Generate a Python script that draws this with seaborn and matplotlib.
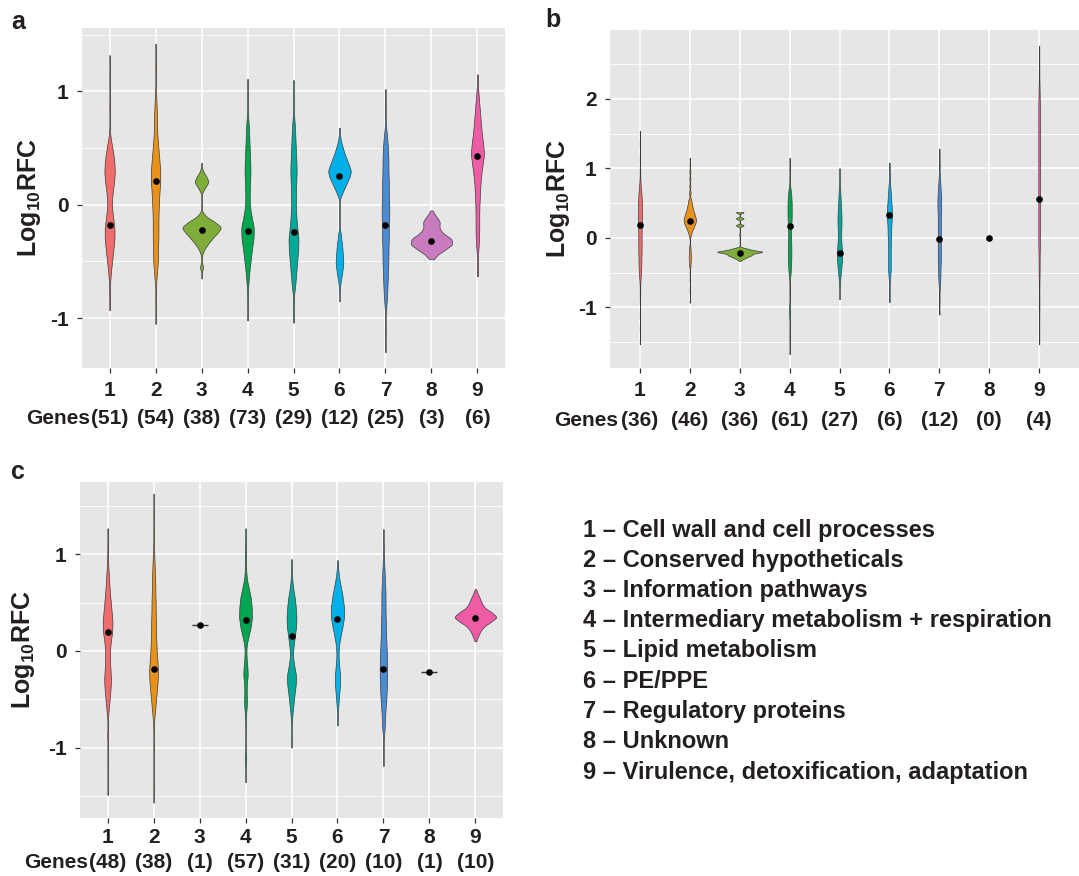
import numpy as np
import pandas as pd
import matplotlib
matplotlib.use("Agg")
import matplotlib.pyplot as plt
from matplotlib.ticker import MultipleLocator
import seaborn as sns

# ---------------- data ----------------
categories = ["1", "2", "3", "4", "5", "6", "7", "8", "9"]
category_names = [
    "Cell wall and cell processes",
    "Conserved hypotheticals",
    "Information pathways",
    "Intermediary metabolism + respiration",
    "Lipid metabolism",
    "PE/PPE",
    "Regulatory proteins",
    "Unknown",
    "Virulence, detoxification, adaptation",
]
colors = ["#F06B6B", "#E8921C", "#7EAD3A", "#00A650", "#00A99A",
          "#00B0E8", "#4B8BD1", "#C87BBE", "#EE5CA5"]

genes_a = [51, 54, 38, 73, 29, 12, 25, 3, 6]
genes_b = [36, 46, 36, 61, 27, 6, 12, 0, 4]
genes_c = [48, 38, 1, 57, 31, 20, 10, 1, 10]

median_a = [-0.18, 0.21, -0.22, -0.23, -0.24, 0.25, -0.18, -0.32, 0.43]
median_b = [0.19, 0.25, -0.21, 0.17, -0.21, 0.33, -0.01, 0.0, 0.56]
median_c = [0.20, -0.19, 0.27, 0.32, 0.16, 0.33, -0.19, -0.22, 0.34]

# density profiles: log10 RFC levels and weights
a1_v = [1.32, 1.1, 0.85, 0.6, 0.5, 0.4, 0.3, 0.2, 0.1, 0.0, -0.1, -0.2, -0.3, -0.4, -0.5, -0.6, -0.7, -0.8, -0.93]
a1_n = [1, 1, 1, 2, 7, 11, 13, 11, 7, 5, 8, 12, 12, 9, 6, 3, 1, 1, 1]
a2_v = [1.42, 1.2, 1.0, 0.9, 0.8, 0.7, 0.6, 0.5, 0.4, 0.3, 0.2, 0.1, 0.0, -0.1, -0.2, -0.3, -0.4, -0.5, -0.6, -0.7, -0.85, -1.05]
a2_n = [1, 1, 1, 2, 3, 3, 4, 6, 8, 10, 10, 8, 7, 6, 6, 6, 5, 5, 3, 1, 1, 1]
a3_v = [0.37, 0.3, 0.25, 0.2, 0.15, 0.1, 0.0, -0.1, -0.15, -0.2, -0.25, -0.3, -0.35, -0.4, -0.45, -0.55, -0.65]
a3_n = [1, 3, 13, 20, 9, 1, 1, 10, 35, 55, 42, 28, 16, 6, 1, 5, 1]
a4_v = [1.11, 0.95, 0.8, 0.7, 0.6, 0.5, 0.4, 0.3, 0.2, 0.1, 0.0, -0.1, -0.2, -0.3, -0.4, -0.5, -0.6, -0.7, -0.85, -1.02]
a4_n = [1, 1, 1, 3, 4, 5, 6, 7, 6, 5, 5, 9, 15, 14, 10, 7, 4, 2, 1, 1]
a5_v = [1.1, 0.95, 0.8, 0.7, 0.6, 0.5, 0.4, 0.3, 0.2, 0.1, 0.0, -0.1, -0.2, -0.3, -0.4, -0.5, -0.6, -0.7, -0.8, -0.92, -1.04]
a5_n = [1, 1, 1, 3, 4, 5, 6, 7, 6, 5, 5, 6, 8, 11, 10, 8, 6, 4, 1, 1, 1]
a6_v = [0.68, 0.6, 0.55, 0.5, 0.45, 0.4, 0.35, 0.3, 0.25, 0.2, 0.15, 0.1, 0.05, -0.05, -0.15, -0.25, -0.3, -0.35, -0.4, -0.45, -0.5, -0.55, -0.6, -0.65, -0.7, -0.75, -0.85]
a6_n = [1, 2, 4, 8, 12, 17, 22, 27, 24, 18, 12, 6, 1, 1, 1, 3, 4, 6, 7, 8, 9, 8, 6, 4, 2, 1, 1]
a7_v = [1.02, 0.85, 0.7, 0.6, 0.5, 0.4, 0.3, 0.2, 0.1, 0.0, -0.1, -0.2, -0.3, -0.4, -0.5, -0.6, -0.7, -0.8, -0.9, -1.1, -1.3]
a7_n = [1, 1, 1, 4, 6, 7, 7, 8, 8, 9, 9, 8, 8, 7, 7, 6, 5, 4, 2, 1, 1]
a8_v = [-0.05, -0.1, -0.15, -0.2, -0.25, -0.3, -0.35, -0.4, -0.45, -0.48]
a8_n = [2, 12, 24, 20, 30, 55, 58, 35, 12, 2]
a9_v = [1.15, 1.05, 0.95, 0.85, 0.75, 0.65, 0.55, 0.45, 0.35, 0.25, 0.15, 0.05, -0.05, -0.15, -0.25, -0.35, -0.45, -0.55, -0.63]
a9_n = [1, 1, 3, 5, 7, 9, 12, 15, 11, 8, 6, 5, 4, 4, 4, 3, 1, 1, 1]

b1_v = [1.54, 1.35, 1.15, 1.0, 0.9, 0.8, 0.7, 0.6, 0.5, 0.4, 0.3, 0.2, 0.1, 0.0, -0.1, -0.2, -0.3, -0.4, -0.5, -0.6, -0.7, -0.8, -0.9, -1.1, -1.3, -1.53]
b1_n = [1, 1, 1, 1, 1, 2, 4, 6, 7, 7, 7, 7, 6, 6, 6, 6, 5, 5, 4, 2, 1, 1, 1, 1, 1, 1]
b2_v = [1.15, 1.05, 0.95, 0.85, 0.75, 0.65, 0.55, 0.5, 0.45, 0.4, 0.35, 0.3, 0.25, 0.2, 0.15, 0.1, 0.05, 0.0, -0.1, -0.15, -0.2, -0.25, -0.3, -0.35, -0.4, -0.5, -0.6, -0.75, -0.93]
b2_n = [1, 1, 2, 2, 2, 3, 4, 5, 7, 9, 12, 15, 17, 14, 10, 6, 3, 1, 1, 2, 2, 3, 3, 2, 2, 1, 1, 1, 1]
b3_v = [0.37, 0.28, 0.18, 0.05, -0.15, -0.175, -0.2, -0.225, -0.25, -0.275, -0.3, -0.33]
b3_n = [6, 6, 6, 1, 8, 15, 30, 15, 14, 9, 5, 1]
b4_v = [1.15, 1.0, 0.85, 0.7, 0.6, 0.5, 0.4, 0.3, 0.2, 0.1, 0.0, -0.1, -0.2, -0.3, -0.4, -0.5, -0.6, -0.75, -0.95, -1.05, -1.15, -1.4, -1.67]
b4_n = [1, 1, 1, 3, 5, 6, 6, 6, 5, 4, 4, 5, 5, 5, 4, 3, 1, 1, 1, 2, 1, 1, 1]
b5_v = [1.0, 0.9, 0.8, 0.7, 0.6, 0.5, 0.4, 0.3, 0.2, 0.1, 0.0, -0.1, -0.2, -0.3, -0.4, -0.5, -0.6, -0.7, -0.88]
b5_n = [1, 1, 1, 2, 3, 4, 5, 6, 6, 5, 5, 6, 8, 8, 6, 4, 2, 1, 1]
b6_v = [1.08, 0.95, 0.85, 0.75, 0.65, 0.55, 0.45, 0.35, 0.25, 0.15, 0.05, -0.05, -0.15, -0.25, -0.35, -0.45, -0.55, -0.65, -0.8, -0.92]
b6_n = [1, 1, 1, 2, 3, 4, 5, 6, 5, 4, 4, 3, 3, 3, 3, 3, 2, 1, 1, 1]
b7_v = [1.28, 1.15, 1.05, 0.95, 0.85, 0.75, 0.65, 0.55, 0.45, 0.35, 0.25, 0.15, 0.05, -0.05, -0.15, -0.25, -0.35, -0.45, -0.55, -0.65, -0.75, -0.9, -1.1]
b7_n = [1, 1, 1, 1, 2, 3, 4, 5, 5, 4, 4, 4, 4, 4, 4, 4, 4, 3, 3, 2, 1, 1, 1]
b8_v = []
b8_n = []
b9_v = [2.76, 2.5, 2.28, 2.1, 1.9, 1.7, 1.5, 1.3, 1.1, 0.9, 0.7, 0.5, 0.3, 0.1, -0.1, -0.3, -0.5, -0.7, -0.9, -1.05, -1.3, -1.53]
b9_n = [1, 1, 1, 2, 3, 3, 3, 3, 3, 3, 3, 3, 3, 3, 3, 2, 2, 1, 1, 1, 1, 1]

c1_v = [1.27, 1.1, 1.0, 0.9, 0.8, 0.7, 0.6, 0.5, 0.4, 0.3, 0.2, 0.1, 0.0, -0.1, -0.2, -0.3, -0.4, -0.5, -0.6, -0.7, -0.88, -1.15, -1.49]
c1_n = [1, 1, 1, 2, 4, 6, 8, 11, 14, 17, 16, 11, 8, 8, 10, 12, 10, 7, 4, 1, 2, 1, 1]
c2_v = [1.63, 1.4, 1.24, 1.1, 1.0, 0.9, 0.8, 0.7, 0.6, 0.5, 0.4, 0.3, 0.2, 0.1, 0.0, -0.1, -0.2, -0.3, -0.4, -0.5, -0.6, -0.7, -0.8, -1.0, -1.2, -1.4, -1.57]
c2_n = [1, 1, 1, 1, 2, 3, 4, 5, 5, 6, 6, 7, 7, 8, 9, 11, 13, 12, 10, 7, 5, 2, 1, 1, 1, 1, 1]
c3_v = [0.27]
c3_n = [1]
c4_v = [1.27, 1.15, 1.05, 0.95, 0.85, 0.75, 0.65, 0.55, 0.45, 0.35, 0.25, 0.15, 0.05, -0.05, -0.15, -0.25, -0.35, -0.45, -0.55, -0.65, -0.75, -0.9, -1.1, -1.2, -1.36]
c4_n = [1, 1, 2, 2, 2, 4, 11, 18, 21, 22, 18, 10, 3, 3, 6, 8, 4, 4, 5, 2, 1, 1, 3, 1, 1]
c5_v = [0.95, 0.85, 0.75, 0.65, 0.55, 0.45, 0.35, 0.25, 0.15, 0.05, -0.05, -0.15, -0.25, -0.35, -0.45, -0.55, -0.65, -0.75, -0.88, -1.0]
c5_n = [1, 1, 2, 5, 10, 13, 15, 14, 10, 6, 4, 8, 14, 13, 9, 6, 3, 1, 1, 1]
c6_v = [0.94, 0.85, 0.75, 0.65, 0.55, 0.45, 0.35, 0.25, 0.15, 0.05, -0.05, -0.15, -0.25, -0.35, -0.45, -0.55, -0.65, -0.77]
c6_n = [1, 2, 5, 11, 16, 20, 20, 15, 9, 4, 3, 5, 8, 8, 5, 3, 1, 1]
c7_v = [1.26, 1.1, 1.0, 0.9, 0.8, 0.7, 0.6, 0.5, 0.4, 0.3, 0.2, 0.1, 0.0, -0.1, -0.2, -0.3, -0.4, -0.5, -0.6, -0.7, -0.8, -0.9, -1.05, -1.19]
c7_n = [1, 1, 1, 2, 3, 4, 5, 5, 5, 6, 6, 7, 8, 9, 9, 9, 8, 7, 5, 4, 3, 1, 1, 1]
c8_v = [-0.22]
c8_n = [1]
c9_v = [0.64, 0.6, 0.55, 0.5, 0.45, 0.4, 0.35, 0.3, 0.25, 0.2, 0.15, 0.1]
c9_n = [1, 5, 12, 17, 24, 45, 62, 42, 22, 13, 7, 2]

levels_a = [a1_v, a2_v, a3_v, a4_v, a5_v, a6_v, a7_v, a8_v, a9_v]
counts_a = [a1_n, a2_n, a3_n, a4_n, a5_n, a6_n, a7_n, a8_n, a9_n]
levels_b = [b1_v, b2_v, b3_v, b4_v, b5_v, b6_v, b7_v, b8_v, b9_v]
counts_b = [b1_n, b2_n, b3_n, b4_n, b5_n, b6_n, b7_n, b8_n, b9_n]
levels_c = [c1_v, c2_v, c3_v, c4_v, c5_v, c6_v, c7_v, c8_v, c9_v]
counts_c = [c1_n, c2_n, c3_n, c4_n, c5_n, c6_n, c7_n, c8_n, c9_n]

# ---------------- style ----------------
plt.rcParams["font.family"] = ["Liberation Sans", "DejaVu Sans"]
plt.rcParams["font.weight"] = "bold"
plt.rcParams["axes.labelweight"] = "bold"
plt.rcParams["mathtext.fontset"] = "custom"
plt.rcParams["mathtext.bf"] = "Liberation Sans:bold"
plt.rcParams["mathtext.rm"] = "Liberation Sans:bold"
plt.rcParams["mathtext.it"] = "Liberation Sans:bold"
TEXT = "#231F20"


def spacing_bw(kde):
    data = np.asarray(kde.dataset).ravel()
    u = np.unique(data)
    if u.size < 2:
        return 1.0
    step = np.median(np.diff(u))
    return 0.55 * step / np.std(data, ddof=1)


def build(levels, counts):
    frames, singles = [], []
    for cat, v, n in zip(categories, levels, counts):
        if len(v) == 0:
            continue
        if len(np.unique(v)) < 2:
            singles.append((cat, v[0]))
            continue
        frames.append(pd.DataFrame({"category": cat,
                                    "log10rfc": np.repeat(v, n)}))
    return pd.concat(frames, ignore_index=True), singles


def draw_panel(ax, levels, counts, medians, genes, ylim, yticks, xlim,
               genes_y, tick_pad):
    df, singles = build(levels, counts)
    sns.violinplot(data=df, x="category", y="log10rfc", hue="category",
                   order=categories, hue_order=categories, palette=colors,
                   legend=False, inner=None, cut=0, density_norm="area",
                   common_norm=True, width=0.9, bw_method=spacing_bw,
                   gridsize=500, linewidth=0.5, linecolor="#3c3c3c",
                   saturation=1, ax=ax)
    if singles:
        sns.stripplot(x=[s[0] for s in singles], y=[s[1] for s in singles],
                      order=categories, color="#333333", marker="_",
                      size=11, linewidth=1.0, jitter=False, ax=ax)
    sns.stripplot(x=categories, y=medians, order=categories, color="black",
                  size=4.8, linewidth=0, jitter=False, ax=ax, zorder=10)
    ax.set_xlim(*xlim)
    ax.set_ylim(*ylim)
    ax.set_facecolor("#E6E6E6")
    for s in ax.spines.values():
        s.set_visible(False)
    ax.set_axisbelow(True)
    ax.yaxis.set_minor_locator(MultipleLocator(0.5))
    ax.grid(which="major", axis="both", color="white", linewidth=1.2)
    ax.grid(which="minor", axis="y", color="white", linewidth=0.6)
    ax.set_yticks(yticks)
    ax.set_yticklabels([("-%d" % abs(t)) if t < 0 else "%d" % t for t in yticks])
    ax.set_xticks(range(len(categories)))
    ax.set_xticklabels(categories)
    ax.tick_params(which="minor", length=0)
    ax.tick_params(which="major", length=3.5, width=0.9, color="#333333",
                   labelsize=15, labelcolor=TEXT)
    ax.tick_params(axis="x", pad=tick_pad)
    ax.tick_params(axis="y", pad=6)
    ax.set_xlabel("")
    ax.set_ylabel(r"$\mathbf{Log_{10}RFC}$", fontsize=18, color=TEXT)
    tr = ax.get_xaxis_transform()
    for i, g in enumerate(genes):
        ax.text(i, genes_y, "(%d)" % g, transform=tr, ha="center",
                va="center", fontsize=15, fontweight="bold", color=TEXT)
    ax.text(-0.43, genes_y, "Genes", transform=tr, ha="right", va="center",
            fontsize=15, fontweight="bold", color=TEXT)


W, H = 1079, 876
fig = plt.figure(figsize=(W / 100, H / 100), dpi=100)
fig.patch.set_facecolor("white")


def add_ax(left, top, right, bottom):
    return fig.add_axes([left / W, 1 - bottom / H, (right - left) / W,
                         (bottom - top) / H])


ax_a = add_ax(82, 28, 505, 368)
ax_b = add_ax(610, 30, 1079, 368)
ax_c = add_ax(80, 482, 503, 818)

draw_panel(ax_a, levels_a, counts_a, median_a, genes_a, (-1.44, 1.56),
           [-1, 0, 1], (-0.6, 8.6), -51 / 340, 6)
draw_panel(ax_b, levels_b, counts_b, median_b, genes_b, (-1.87, 2.99),
           [-1, 0, 1, 2], (-0.6, 8.8), -53 / 338, 6)
draw_panel(ax_c, levels_c, counts_c, median_c, genes_c, (-1.73, 1.75),
           [-1, 0, 1], (-0.6, 8.6), -45 / 336, 4)

ax_a.yaxis.set_label_coords(-0.092, 0.5)
ax_b.yaxis.set_label_coords(-0.080, 0.5)
ax_c.yaxis.set_label_coords(-0.102, 0.5)

for lab, (x, y) in zip(["a", "b", "c"], [(11, 22), (545, 20), (11, 472)]):
    fig.text(x / W, 1 - y / H, lab, fontsize=18, fontweight="bold",
             color=TEXT, ha="left", va="center")

for i, (cat, name) in enumerate(zip(categories, category_names)):
    fig.text(583 / W, 1 - (530 + i * 30.25) / H, "%s \u2013 %s" % (cat, name),
             fontsize=17, fontweight="bold", color=TEXT, ha="left",
             va="center")

fig.savefig("out.png", dpi=100, facecolor="white")
